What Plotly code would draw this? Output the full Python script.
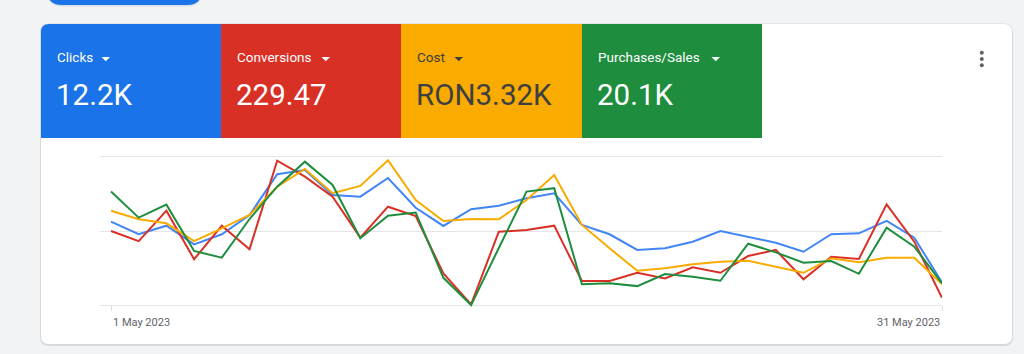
import plotly.graph_objects as go

# ---------------- data (normalised index, 100 = top gridline) ----------------
dates = [f"2023-05-{d:02d}" for d in range(1, 32)]

clicks = [56.3, 47.8, 53.6, 41.0, 47.8, 60.8, 88.3, 91.2, 74.3, 73.2, 85.8,
          65.7, 53.4, 64.7, 67.1, 72.1, 75.5, 54.1, 47.8, 37.2, 38.3, 42.8,
          50.0, 46.1, 42.1, 36.0, 47.8, 48.4, 56.8, 45.5, 15.3]
conversions = [50.0, 43.2, 63.7, 30.9, 53.6, 37.6, 97.5, 86.7, 73.2, 45.5, 66.4,
               60.1, 21.4, 0.5, 49.5, 50.7, 53.6, 16.2, 16.2, 21.8, 18.0, 25.5,
               21.8, 33.1, 37.2, 17.4, 32.6, 31.1, 68.0, 42.8, 4.9]
cost = [63.7, 57.9, 55.2, 43.2, 51.8, 60.8, 79.9, 91.9, 75.5, 80.4, 97.8,
        70.9, 56.8, 58.1, 57.9, 70.9, 87.8, 54.1, 38.3, 23.2, 24.8, 27.5,
        29.3, 29.9, 25.9, 21.8, 31.6, 28.9, 32.0, 32.0, 14.0]
purchases = [76.6, 59.0, 67.8, 36.5, 32.0, 58.1, 79.9, 96.8, 81.1, 45.1, 60.3,
             62.4, 18.4, 0.0, 38.5, 76.6, 78.9, 14.0, 14.7, 12.8, 20.9, 19.1,
             16.4, 41.4, 35.6, 28.6, 29.7, 21.1, 52.2, 39.4, 14.7]

metric_names = ["Clicks", "Conversions", "Cost", "Purchases/Sales"]
metric_totals = ["12.2K", "229.47", "RON3.32K", "20.1K"]
tick_labels = ["1 May 2023", "31 May 2023"]

# ---------------- styling ----------------
W, H = 1024, 354
L, R, T, B = 100, 942, 151, 311   # plot area in pixels
BG = "#f1f3f4"
tile_colors = ["#1a73e8", "#d93025", "#f9ab00", "#1e8e3e"]
line_colors = ["#4285f4", "#d93025", "#f9ab00", "#1e8e3e"]
text_colors = ["#ffffff", "#ffffff", "#3c4043", "#ffffff"]
FONT = "Roboto"


def px(x):
    return (x - L) / (R - L)


def py(y):
    return (B - y) / (B - T)


def rr_path(x0, y0, x1, y1, tl=0, tr=0, br=0, bl=0):
    P = lambda x, y: f"{px(x):.5f},{py(y):.5f}"
    s = f"M {P(x0 + tl, y0)} L {P(x1 - tr, y0)} "
    if tr:
        s += f"Q {P(x1, y0)} {P(x1, y0 + tr)} "
    s += f"L {P(x1, y1 - br)} "
    if br:
        s += f"Q {P(x1, y1)} {P(x1 - br, y1)} "
    s += f"L {P(x0 + bl, y1)} "
    if bl:
        s += f"Q {P(x0, y1)} {P(x0, y1 - bl)} "
    s += f"L {P(x0, y0 + tl)} "
    if tl:
        s += f"Q {P(x0, y0)} {P(x0 + tl, y0)} "
    return s + "Z"


def tri_path(x, y, w=8, h=4):
    return (f"M {px(x):.5f},{py(y):.5f} L {px(x + w):.5f},{py(y):.5f} "
            f"L {px(x + w / 2):.5f},{py(y + h):.5f} Z")


fig = go.Figure()
for name, vals, col in zip(metric_names, [clicks, conversions, cost, purchases], line_colors):
    fig.add_trace(go.Scatter(x=dates, y=vals, mode="lines", name=name,
                             line=dict(color=col, width=2), hoverinfo="skip"))

shapes = []
# top pill (partially visible)
shapes.append(dict(type="path", xref="paper", yref="paper", layer="below",
                   path=rr_path(47, -30, 202, 6.5, 0, 0, 15, 15),
                   fillcolor="#dcdee1", line=dict(width=0)))
shapes.append(dict(type="path", xref="paper", yref="paper", layer="below",
                   path=rr_path(47, -30, 202, 5, 0, 0, 15, 15),
                   fillcolor="#1a73e8", line=dict(width=0)))
# card shadow + card
shapes.append(dict(type="path", xref="paper", yref="paper", layer="below",
                   path=rr_path(40, 23.5, 1013, 346, 9, 9, 9, 9),
                   fillcolor="#d7d9dc", line=dict(width=0)))
shapes.append(dict(type="path", xref="paper", yref="paper", layer="below",
                   path=rr_path(41, 24, 1012, 344, 8, 8, 8, 8),
                   fillcolor="#ffffff", line=dict(width=0)))
# metric tiles
tile_x = [41, 221, 401, 582, 762]
tri_x = [101.5, 321.5, 454.5, 711.5]
for i in range(4):
    shapes.append(dict(type="path", xref="paper", yref="paper", layer="below",
                       path=rr_path(tile_x[i], 24, tile_x[i + 1], 138, 8 if i == 0 else 0),
                       fillcolor=tile_colors[i], line=dict(width=0)))
    shapes.append(dict(type="path", xref="paper", yref="paper", layer="above",
                       path=tri_path(tri_x[i], 57, 8.5, 4.2),
                       fillcolor=text_colors[i], line=dict(width=0)))
# kebab menu
for yy in [52.8, 59, 65.3]:
    shapes.append(dict(type="circle", xref="paper", yref="paper", layer="above",
                       x0=px(979.8), x1=px(983.8), y0=py(yy - 2), y1=py(yy + 2),
                       fillcolor="#5f6368", line=dict(width=0)))

annotations = []
for i in range(4):
    annotations.append(dict(text=metric_names[i], xref="paper", yref="paper",
                            x=px(tile_x[i] + 14), y=py(57), xanchor="left", yanchor="middle",
                            showarrow=False, font=dict(family=FONT, size=13.5, color=text_colors[i])))
    annotations.append(dict(text=metric_totals[i], xref="paper", yref="paper",
                            x=px(tile_x[i] + 13), y=py(95), xanchor="left", yanchor="middle",
                            showarrow=False, font=dict(family=FONT, size=29.5, color=text_colors[i])))
# x tick labels
annotations.append(dict(text=tick_labels[0], xref="x", yref="paper", x=dates[0], y=py(322),
                        xanchor="left", yanchor="middle", showarrow=False,
                        font=dict(family=FONT, size=11, color="#5f6368")))
annotations.append(dict(text=tick_labels[1], xref="x", yref="paper", x=dates[-1], y=py(322),
                        xanchor="right", yanchor="middle", showarrow=False,
                        font=dict(family=FONT, size=11, color="#5f6368")))

fig.update_layout(
    width=W, height=H,
    margin=dict(l=L, r=W - R, t=T, b=H - B, pad=0),
    paper_bgcolor=BG, plot_bgcolor="rgba(0,0,0,0)",
    showlegend=False,
    shapes=shapes, annotations=annotations,
    xaxis=dict(type="date", range=["2023-04-30 14:28", "2023-05-31 00:00"],
               tickvals=[dates[0], dates[-1]], showticklabels=False,
               ticks="outside", ticklen=5, tickcolor="#dadce0", tickwidth=1,
               showgrid=False, zeroline=False, showline=False,
               anchor="free", position=py(305)),
    yaxis=dict(range=[-4, 104], tickvals=[0, 50, 100], showticklabels=False,
               gridcolor="#e3e5e8", gridwidth=1, zeroline=False, showline=False),
    hovermode=False,
)

fig.write_html("out.html")
